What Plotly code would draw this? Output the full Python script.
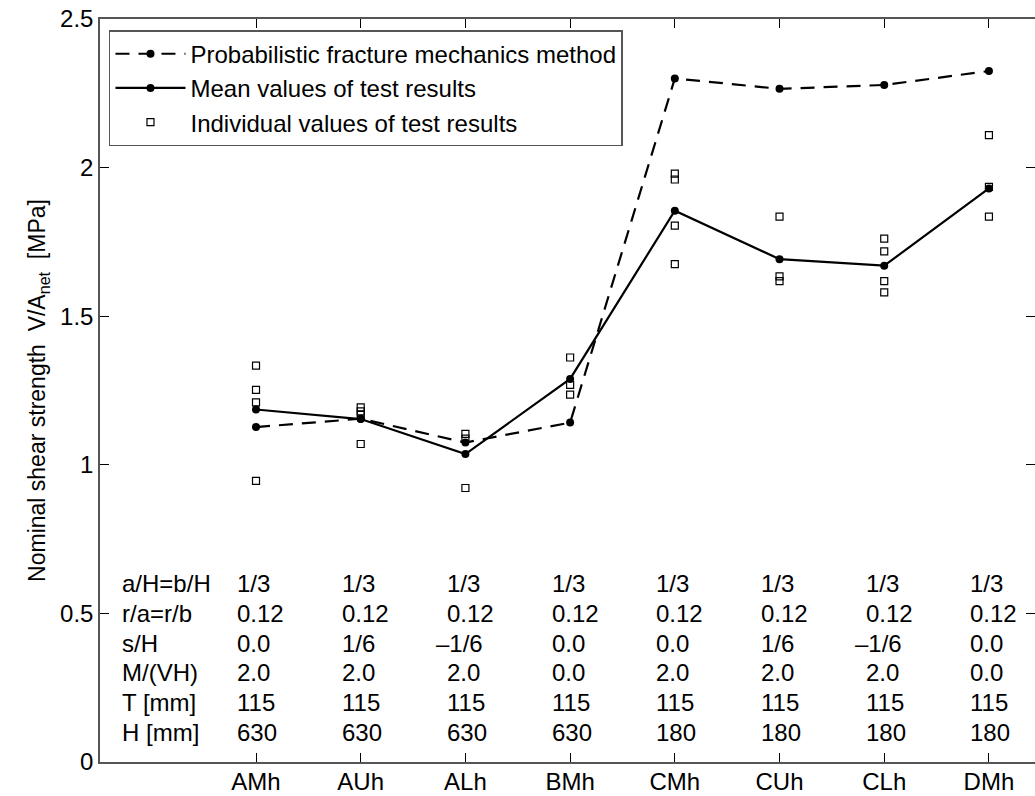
import plotly.graph_objects as go

categories = ["AMh", "AUh", "ALh", "BMh", "CMh", "CUh", "CLh", "DMh"]
x_pos = [1, 2, 3, 4, 5, 6, 7, 8]

pfm_method = [1.127, 1.155, 1.075, 1.142, 2.300, 2.265, 2.278, 2.325]
mean_tests = [1.186, 1.154, 1.036, 1.289, 1.855, 1.692, 1.670, 1.930]
individual_tests = [
    [1.334, 1.252, 1.210, 0.946],
    [1.193, 1.180, 1.168, 1.070],
    [1.104, 1.088, 0.922],
    [1.361, 1.269, 1.236],
    [1.980, 1.960, 1.805, 1.675],
    [1.835, 1.634, 1.618],
    [1.761, 1.718, 1.618, 1.580],
    [2.109, 1.935, 1.835],
]

row_labels = ["a/H=b/H", "r/a=r/b", "s/H", "M/(VH)", "T [mm]", "H [mm]"]
row_y = [0.6, 0.5, 0.4, 0.3, 0.2, 0.1]
aH = ["1/3"] * 8
ra = ["0.12"] * 8
sH = ["0.0", "1/6", "–1/6", "0.0", "0.0", "1/6", "–1/6", "0.0"]
MVH = ["2.0", "2.0", "2.0", "0.0", "2.0", "2.0", "2.0", "0.0"]
T_mm = ["115"] * 8
H_mm = ["630", "630", "630", "630", "180", "180", "180", "180"]
table_rows = [aH, ra, sH, MVH, T_mm, H_mm]

y_ticks = [0, 0.5, 1, 1.5, 2, 2.5]
y_ticktext = ["0", "0.5", "1", "1.5", "2", "2.5"]

FONT = "Liberation Sans, Arial, Helvetica, sans-serif"
FS = 24
AX = "#555555"

fig = go.Figure()

fig.add_trace(go.Scatter(
    x=x_pos, y=pfm_method, mode="lines+markers",
    name="Probabilistic fracture mechanics method",
    line=dict(color="black", width=2.2, dash="14px,9px"),
    marker=dict(symbol="circle", size=8, color="black"),
))
fig.add_trace(go.Scatter(
    x=x_pos, y=mean_tests, mode="lines+markers",
    name="Mean values of test results",
    line=dict(color="black", width=2.2),
    marker=dict(symbol="circle", size=8, color="black"),
))
ix, iy = [], []
for xp, vals in zip(x_pos, individual_tests):
    for v in vals:
        ix.append(xp)
        iy.append(v)
fig.add_trace(go.Scatter(
    x=ix, y=iy, mode="markers",
    name="Individual values of test results",
    marker=dict(symbol="square-open", size=7, color="black", line=dict(width=1.2, color="black")),
))

annotations = []
for lab, yv in zip(row_labels, row_y):
    annotations.append(dict(x=-0.30, y=yv, xref="x", yref="y", text=lab,
                            showarrow=False, xanchor="left", yanchor="middle",
                            font=dict(family=FONT, size=FS, color="black")))
for vals, yv in zip(table_rows, row_y):
    for xp, t in zip(x_pos, vals):
        annotations.append(dict(x=xp - 0.196, y=yv, xref="x", yref="y", text=t,
                                showarrow=False, xanchor="left", yanchor="middle",
                                xshift=-11 if t.startswith("–") else 0,
                                font=dict(family=FONT, size=FS, color="black")))

fig.update_layout(
    width=1035, height=796,
    margin=dict(l=100, r=0, t=19, b=34),
    paper_bgcolor="white", plot_bgcolor="white",
    font=dict(family=FONT, size=FS, color="black"),
    showlegend=True,
    legend=dict(x=0.0096, y=0.985, xanchor="left", yanchor="top",
                bgcolor="white", bordercolor=AX, borderwidth=1.5,
                font=dict(family=FONT, size=24, color="black"),
                itemwidth=70, tracegroupgap=0),
    annotations=annotations,
    xaxis=dict(range=[-0.49, 8.44], tickmode="array", tickvals=x_pos, ticktext=categories,
               ticks="inside", ticklen=9, tickwidth=1, tickcolor="black",
               showline=True, linecolor=AX, linewidth=1.5, mirror="allticks",
               showgrid=False, zeroline=False, automargin=False,
               ticklabeloverflow="allow", ticklabelstandoff=-3,
               tickfont=dict(family=FONT, size=FS, color="black")),
    yaxis=dict(range=[0, 2.5], tickmode="array", tickvals=y_ticks, ticktext=y_ticktext,
               ticks="inside", ticklen=9, tickwidth=1, tickcolor="black",
               showline=True, linecolor=AX, linewidth=1.5, mirror="allticks",
               showgrid=False, zeroline=False, automargin=False,
               ticklabeloverflow="allow",
               tickfont=dict(family=FONT, size=FS, color="black"),
               title=dict(text="Nominal shear strength&nbsp;&nbsp;V/A<sub>net</sub>&nbsp;&nbsp;[MPa]",
                          font=dict(family=FONT, size=23, color="black"), standoff=8)),
)

fig.write_html("out.html", config={"displayModeBar": False},
               post_script="document.body.style.margin='0';document.body.style.overflow='hidden';")
